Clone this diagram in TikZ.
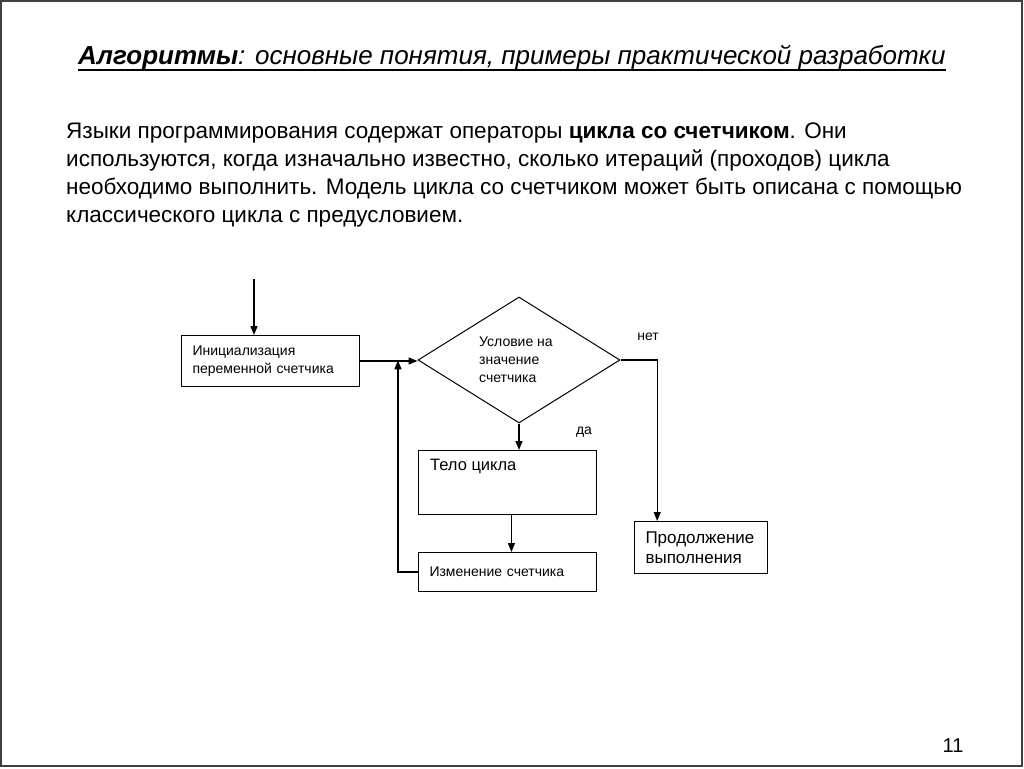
\documentclass[tikz,border=0pt]{standalone}
\usepackage{fontspec}
\setmainfont{Liberation Sans}
\usetikzlibrary{calc,shapes.geometric,arrows.meta}

\begin{document}
\begin{tikzpicture}[x=1pt,y=-1pt,
  box/.style={draw,line width=1pt,anchor=north west,align=left,inner xsep=11pt,inner ysep=0pt},
  decision/.style={draw,line width=1pt,diamond,aspect=1.6,minimum width=202,minimum height=126,align=left,inner sep=0pt},
  small/.style={font=\fontsize{14}{18}\selectfont},
  big/.style={font=\fontsize{16.5}{20}\selectfont},
  flow/.style={line width=1.3pt,-{Triangle[length=9pt,width=7pt]}}]
\useasboundingbox (0,0) rectangle (1024,768);
\draw[line width=1.5pt,black!75] (1,1) rectangle (1022,766);
% title and text
\node[anchor=base west,inner sep=0pt,font=\fontsize{26}{30}\selectfont\itshape] (title) at (78,64)
  {\textbf{Алгоритмы}: основные понятия, примеры практической разработки};
\draw[line width=2pt] ($(title.base west)+(0,6)$) -- ($(title.base east)+(0,6)$);
\node[anchor=base west,inner sep=0pt,align=left,font=\fontsize{22.5}{28}\selectfont] (intro) at (66,222)
  {Языки программирования содержат операторы \textbf{цикла со счетчиком}. Они\\
   используются, когда изначально известно, сколько итераций (проходов) цикла\\
   необходимо выполнить. Модель цикла со счетчиком может быть описана с помощью\\
   классического цикла с предусловием.};
% blocks
\coordinate (start) at (254,279);
\node[box,small,minimum width=178,minimum height=51,text width=156] (init) at (181,335)
  {Инициализация\\переменной счетчика};
\node[decision,small] (cond) at (519,360) {\hspace*{-6pt}Условие на\\\hspace*{-6pt}значение\\\hspace*{-6pt}счетчика};
\node[box,minimum width=178,minimum height=64] (body) at (418,450) {};
\node[big,anchor=north west,inner sep=0pt] (bodytext) at (430,459) {Тело цикла};
\node[box,small,minimum width=178,minimum height=39,text width=156] (change) at (418,552)
  {Изменение счетчика};
\node[box,font=\fontsize{17}{20}\selectfont,minimum width=133,minimum height=52,text width=111] (cont) at (634,521)
  {Продолжение\\выполнения};
\node[small] (no) at (648,337) {нет};
\node[small] (yes) at (584,432) {да};
% arrows
\draw[flow] (start) -- (start |- init.north);
\draw[flow] (init.east) -- (init.east -| cond.west);
\draw[flow] (cond.south) -- (cond.south |- body.north);
\draw[flow] ($(body.south west)!0.522!(body.south east)$) -- ($(change.north west)!0.522!(change.north east)$);
\draw[flow] (change.west) -| ($(init.east)!0.66!(cond.west)$);
\draw[flow] (cond.east) -| ($(cont.north west)!0.173!(cont.north east)$);
\node[font=\fontsize{20}{24}\selectfont] (page) at (953,746) {11};
\end{tikzpicture}
\end{document}
